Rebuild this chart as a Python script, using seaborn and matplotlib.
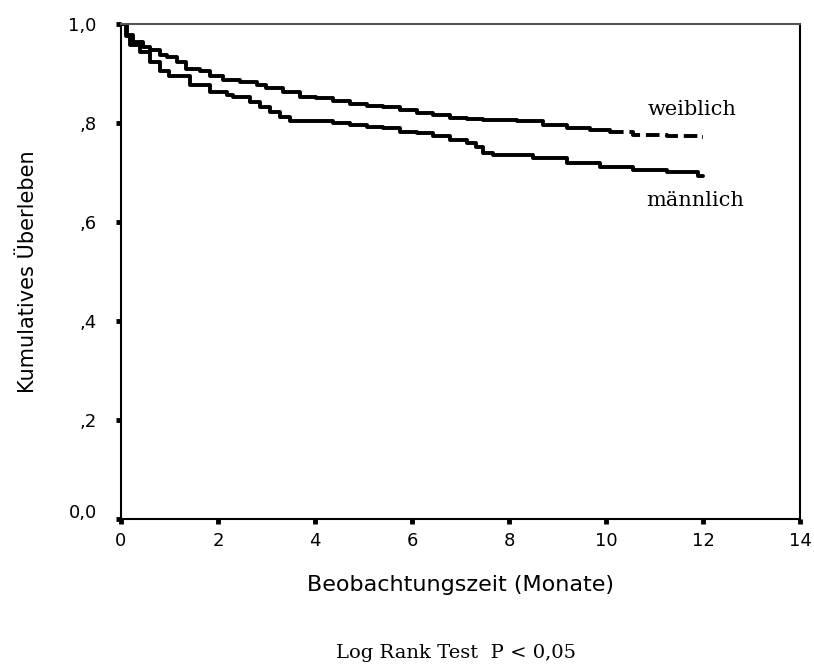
import matplotlib
matplotlib.use("Agg")
import matplotlib.pyplot as plt
import matplotlib.transforms as mtransforms
import seaborn as sns
import pandas as pd

# Kaplan-Meier step estimates, cumulative survival by sex
weiblich_zeit = [0, 0.12, 0.25, 0.46, 0.60, 0.80, 0.94, 1.15, 1.35, 1.63, 1.84,
                 2.11, 2.45, 2.80, 3.00, 3.35, 3.69, 4.03, 4.38, 4.72, 5.07, 5.41,
                 5.75, 6.10, 6.44, 6.78, 7.13, 7.47, 8.16, 8.70, 9.19, 9.67, 10.08,
                 10.56, 11.25, 11.90, 12.0]
weiblich_surv = [1.0, 0.978, 0.964, 0.953, 0.947, 0.937, 0.934, 0.924, 0.910, 0.906,
                 0.894, 0.887, 0.883, 0.877, 0.870, 0.863, 0.853, 0.850, 0.845, 0.838,
                 0.834, 0.833, 0.826, 0.821, 0.816, 0.811, 0.809, 0.806, 0.803, 0.796,
                 0.789, 0.786, 0.782, 0.776, 0.774, 0.771, 0.771]

maennlich_zeit = [0, 0.10, 0.19, 0.39, 0.60, 0.80, 1.0, 1.42, 1.84, 2.18, 2.32,
                  2.66, 2.87, 3.07, 3.28, 3.48, 4.38, 4.72, 5.07, 5.41, 5.75, 6.10,
                  6.44, 6.78, 7.13, 7.33, 7.47, 7.68, 8.50, 9.19, 9.88, 10.56, 11.25,
                  11.90, 12.0]
maennlich_surv = [1.0, 0.975, 0.958, 0.944, 0.924, 0.905, 0.894, 0.877, 0.863, 0.856,
                  0.853, 0.843, 0.833, 0.823, 0.813, 0.803, 0.799, 0.796, 0.791, 0.789,
                  0.781, 0.779, 0.774, 0.766, 0.760, 0.752, 0.740, 0.735, 0.729, 0.720,
                  0.712, 0.706, 0.700, 0.693, 0.693]

x_ticks = [0, 2, 4, 6, 8, 10, 12, 14]
y_ticks = [0.0, 0.2, 0.4, 0.6, 0.8, 1.0]
y_tick_labels = ["0,0", ",2", ",4", ",6", ",8", "1,0"]

sns.set_theme(style="white")
plt.rcParams["font.family"] = ["DejaVu Sans"]
plt.rcParams["text.color"] = "black"
plt.rcParams["axes.labelcolor"] = "black"
plt.rcParams["xtick.color"] = "black"
plt.rcParams["ytick.color"] = "black"

fig = plt.figure(figsize=(8.14, 6.64), dpi=100)
ax = fig.add_axes([0.1486, 0.2184, 0.8342, 0.7455])

df_w = pd.DataFrame({"zeit": weiblich_zeit, "surv": weiblich_surv})
df_m = pd.DataFrame({"zeit": maennlich_zeit, "surv": maennlich_surv})

line_kw = dict(color="black", linewidth=2.8, drawstyle="steps-post",
               estimator=None, sort=True, ax=ax)

sns.lineplot(data=df_m, x="zeit", y="surv", **line_kw)

# female curve: solid for most of the follow-up, broken towards the end
split = 32
sns.lineplot(data=df_w.iloc[:split + 1], x="zeit", y="surv", **line_kw)
sns.lineplot(data=df_w.iloc[split:], x="zeit", y="surv",
             linestyle=(0, (3.5, 1.5)), **line_kw)

ax.set_xlim(0, 14)
ax.set_ylim(0, 1.0)
ax.set_xticks(x_ticks)
ax.set_xticklabels([str(t) for t in x_ticks])
ax.set_yticks(y_ticks)
ax.set_yticklabels(y_tick_labels)

for side in ["left", "right", "top", "bottom"]:
    ax.spines[side].set_visible(True)
    ax.spines[side].set_color("black")
    ax.spines[side].set_linewidth(1.5)
ax.spines["top"].set_color("#555555")

ax.tick_params(axis="both", direction="out", length=3.5, width=3.5, color="black",
               labelcolor="black", labelsize=13, bottom=True, left=True)
ax.tick_params(axis="x", pad=6)
ax.tick_params(axis="y", pad=14)

# the zero label sits slightly above its tick
zero_lbl = ax.get_yticklabels()[0]
zero_lbl.set_transform(zero_lbl.get_transform() +
                       mtransforms.ScaledTranslation(0, 8 / 100, fig.dpi_scale_trans))

ax.set_xlabel("Beobachtungszeit (Monate)", fontsize=16, labelpad=18, color="black")
ax.set_ylabel("Kumulatives Überleben", fontsize=15, labelpad=22, color="black")

serif = ["DejaVu Serif"]
ax.text(10.86, 0.827, "weiblich", fontsize=15, family=serif, ha="left", va="center",
        color="black")
ax.text(10.82, 0.643, "männlich", fontsize=15, family=serif, ha="left", va="center",
        color="black")

fig.text(0.560, 0.017, "Log Rank Test  P < 0,05", fontsize=14, family=serif,
         ha="center", va="center", color="black")

fig.savefig("out.png", dpi=100, facecolor="white")
